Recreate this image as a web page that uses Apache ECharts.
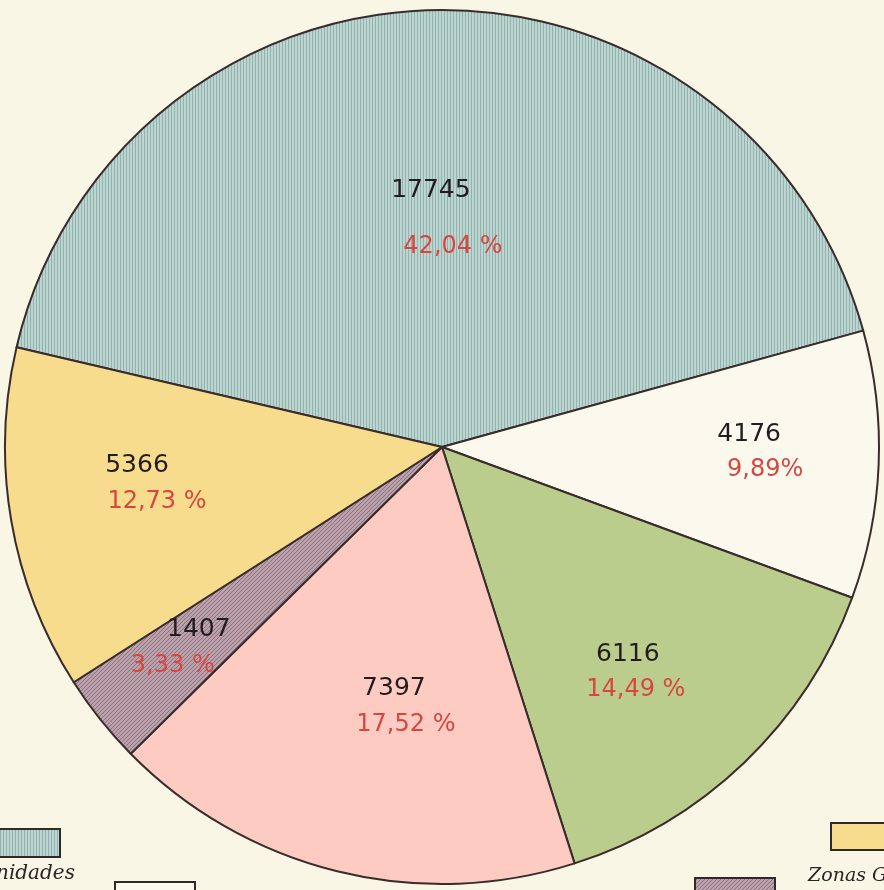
<!DOCTYPE html>
<html>
<head>
<meta charset="utf-8">
<script src="https://cdn.jsdelivr.net/npm/echarts@6/dist/echarts.min.js"></script>
<style>
html,body{margin:0;padding:0;background:#faf6e6;}
#c{width:884px;height:890px;}
</style>
</head>
<body>
<div id="c"></div>
<script>
// Data
var values = [17745, 4176, 6116, 7397, 1407, 5366];
var percents = ['42,04 %', '9,89%', '14,49 %', '17,52 %', '3,33 %', '12,73 %'];
var names = ['A', 'B', 'C', 'D', 'E', 'F'];

// Styling
var CX = 442, CY = 447, R = 437, START = 166.8;
var labelFrac = [0.524, 0.703, 0.668, 0.605, 0.722, 0.703];
var labelShift = [1.65, 1.4, -4.2, 3.4, 1.0, -2.8];
var pctOffset = [22, 16, 8, 12, -26, 20];

function stripes(base, line, kind) {
  var c = document.createElement('canvas');
  var g;
  if (kind === 'v') {
    c.width = 3; c.height = 3;
    g = c.getContext('2d');
    g.fillStyle = base; g.fillRect(0, 0, 3, 3);
    g.fillStyle = line; g.fillRect(0, 0, 1, 3);
  } else {
    c.width = 4; c.height = 4;
    g = c.getContext('2d');
    g.fillStyle = base; g.fillRect(0, 0, 4, 4);
    g.fillStyle = line;
    for (var i = 0; i < 4; i++) g.fillRect(i, 3 - i, 1, 1);
  }
  return {image: c, repeat: 'repeat'};
}
var blueFill = stripes('#bcd6cf', '#92b2b2', 'v');
var purpleFill = stripes('#bba2aa', '#8c7280', 'd');
var colors = [blueFill, '#fbf9ee', '#bacd8c', '#fdcbc2', purpleFill, '#f6dc8c'];

var total = values.reduce(function (a, b) { return a + b; }, 0);
var midAngles = [];
var cum = 0;
values.forEach(function (v) {
  midAngles.push(START - (cum + v / 2) / total * 360);
  cum += v;
});

var baseA = {fontFamily: 'DejaVu Sans', fontSize: 25, color: '#231c1e', lineHeight: 36};
var baseB = {fontFamily: 'DejaVu Sans', fontSize: 24, color: '#d8473f', lineHeight: 36};

var data = values.map(function (v, i) {
  var off = pctOffset[i];
  var lh = i === 0 ? 56 : 36;
  var b = Object.assign({}, baseB, {
    lineHeight: lh,
    padding: off >= 0 ? [0, 0, 0, 2 * off] : [0, -2 * off, 0, 0]
  });
  var a = Object.assign({}, baseA, {lineHeight: lh});
  return {
    name: names[i], value: v,
    itemStyle: {color: colors[i]},
    label: {
      formatter: '{a|' + v + '}\n{b|' + percents[i] + '}',
      rich: {a: a, b: b}
    }
  };
});

var chart = echarts.init(document.getElementById('c'));
chart.setOption({
  backgroundColor: '#faf6e6',
  animation: false,
  series: [{
    type: 'pie',
    center: [CX, CY],
    radius: [0, R],
    startAngle: START,
    clockwise: true,
    avoidLabelOverlap: false,
    itemStyle: {borderColor: '#3a2c2c', borderWidth: 2},
    label: {show: true, position: 'inside'},
    labelLine: {show: false},
    emphasis: {disabled: true},
    data: data,
    labelLayout: function (params) {
      var i = params.dataIndex;
      var ang = (midAngles[i] + labelShift[i]) * Math.PI / 180;
      var r = labelFrac[i] * R;
      return {
        x: CX + r * Math.cos(ang),
        y: CY - r * Math.sin(ang),
        align: 'center',
        verticalAlign: 'middle'
      };
    }
  }],
  graphic: [
    {type: 'rect', shape: {x: -5, y: 829, width: 65, height: 28}, style: {fill: blueFill, stroke: '#2f2a28', lineWidth: 2}},
    {type: 'text', style: {x: -4, y: 884, text: 'nidades', font: 'italic 20px "DejaVu Serif"', fill: '#2b2226', textVerticalAlign: 'bottom'}},
    {type: 'rect', shape: {x: 115, y: 882, width: 80, height: 20}, style: {fill: '#fbf9ee', stroke: '#2f2a28', lineWidth: 2}},
    {type: 'rect', shape: {x: 695, y: 878, width: 80, height: 20}, style: {fill: purpleFill, stroke: '#2f2a28', lineWidth: 2}},
    {type: 'rect', shape: {x: 831, y: 823, width: 70, height: 27}, style: {fill: '#f6dc8c', stroke: '#2f2a28', lineWidth: 2}},
    {type: 'text', style: {x: 808, y: 886, text: 'Zonas Ga', font: 'italic 19px "DejaVu Serif"', fill: '#2b2226', textVerticalAlign: 'bottom'}}
  ]
});
</script>
</body>
</html>
